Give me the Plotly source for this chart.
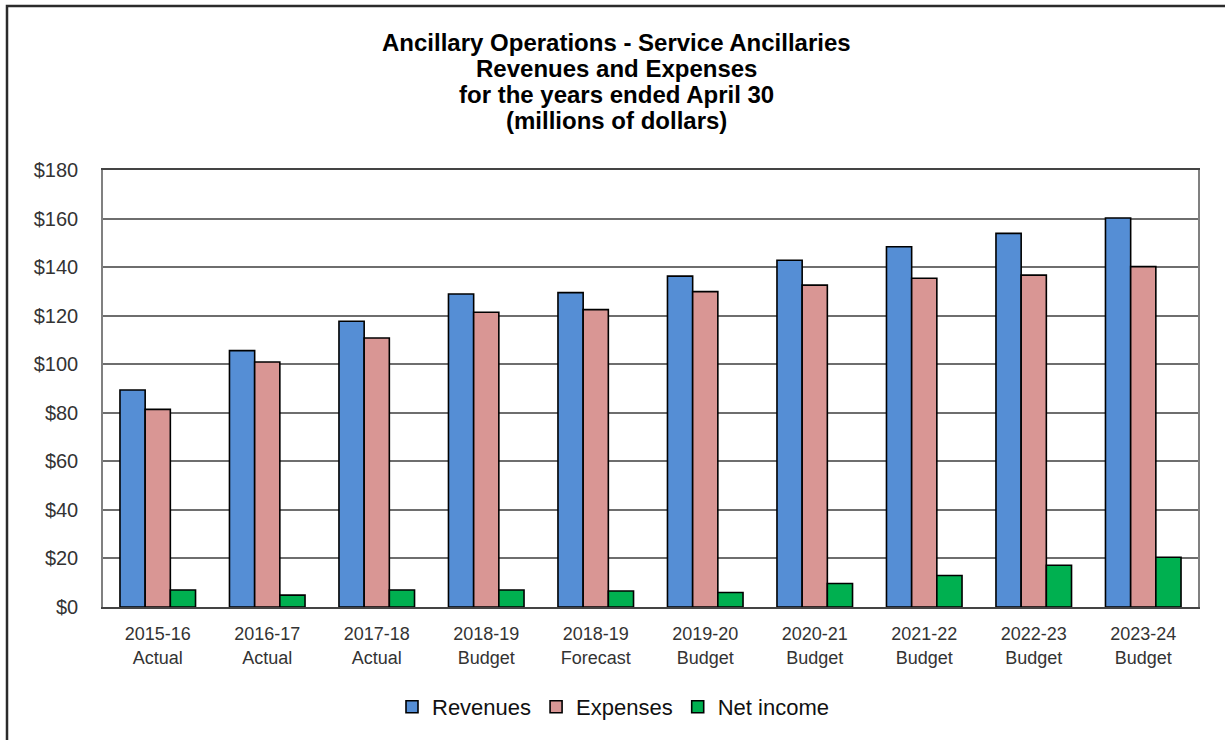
import plotly.graph_objects as go

# Fiscal years and their status labels
years = ["2015-16", "2016-17", "2017-18", "2018-19", "2018-19",
         "2019-20", "2020-21", "2021-22", "2022-23", "2023-24"]
status = ["Actual", "Actual", "Actual", "Budget", "Forecast",
          "Budget", "Budget", "Budget", "Budget", "Budget"]
categories = [f"{y}<br>{s}" for y, s in zip(years, status)]

# Values in millions of dollars
revenues = [89.4, 105.6, 117.7, 128.9, 129.5, 136.3, 142.8, 148.4, 153.9, 160.2]
expenses = [81.4, 100.9, 110.8, 121.4, 122.5, 129.9, 132.6, 135.4, 136.7, 140.2]
net_income = [7.0, 4.9, 7.0, 7.0, 6.6, 6.0, 9.7, 13.0, 17.2, 20.5]

title_lines = [
    "Ancillary Operations - Service Ancillaries",
    "Revenues and Expenses",
    "for the years ended April 30",
    "(millions of dollars)",
]

series = [
    ("Revenues", revenues, "#558ED5"),
    ("Expenses", expenses, "#D99694"),
    ("Net income", net_income, "#00B050"),
]

FONT = "Liberation Sans, Arial, sans-serif"

fig = go.Figure()
for name, vals, color in series:
    fig.add_trace(go.Bar(
        x=categories, y=vals, name=name,
        marker=dict(color=color, line=dict(color="#000000", width=1.6)),
    ))

W, H = 1225, 740
L, R, T, B = 103, 27, 170, 133
pw, ph = W - L - R, H - T - B


def px_x(px):
    return (px - L) / pw


def px_y(py):
    return (H - B - py) / ph


fig.update_layout(
    width=W, height=H,
    margin=dict(l=L, r=R, t=T, b=B, pad=0),
    paper_bgcolor="white", plot_bgcolor="white",
    barmode="group", bargap=0.31, bargroupgap=0,
    font=dict(family=FONT, color="#333333"),
    legend=dict(
        orientation="h", x=px_x(613), xanchor="center",
        y=1 - 707 / H, yref="container", yanchor="middle",
        font=dict(size=22, color="#111111", family=FONT),
        itemwidth=30, traceorder="normal",
    ),
    xaxis=dict(
        showgrid=False, showline=True, linecolor="#444444", linewidth=1.5,
        mirror=True, ticks="", tickfont=dict(size=18, color="#333333"),
        ticklabelstandoff=10,
    ),
    yaxis=dict(
        range=[0, 180], dtick=20, tickprefix="$",
        showgrid=True, gridcolor="#6e6e6e", gridwidth=1.5,
        showline=True, linecolor="#808080", linewidth=1.5, mirror=True,
        zeroline=False, ticks="",
        tickfont=dict(size=20, color="#333333"),
        ticklabelstandoff=19,
    ),
    showlegend=True,
)

# Four-line bold title, one annotation per line for tight spacing
for i, line in enumerate(title_lines):
    fig.add_annotation(
        text=f"<b>{line}</b>", showarrow=False,
        xref="paper", yref="paper",
        x=px_x(616), y=px_y(42 + i * 26.3),
        xanchor="center", yanchor="middle",
        font=dict(size=24, color="#000000", family=FONT),
    )

# Outer frame around the chart
fig.add_shape(
    type="rect", xref="paper", yref="paper",
    x0=px_x(7), x1=px_x(1240), y0=px_y(760), y1=px_y(6),
    line=dict(color="#2b2b2b", width=2.5), fillcolor="rgba(0,0,0,0)",
    layer="below",
)

fig.write_html("out.html")
